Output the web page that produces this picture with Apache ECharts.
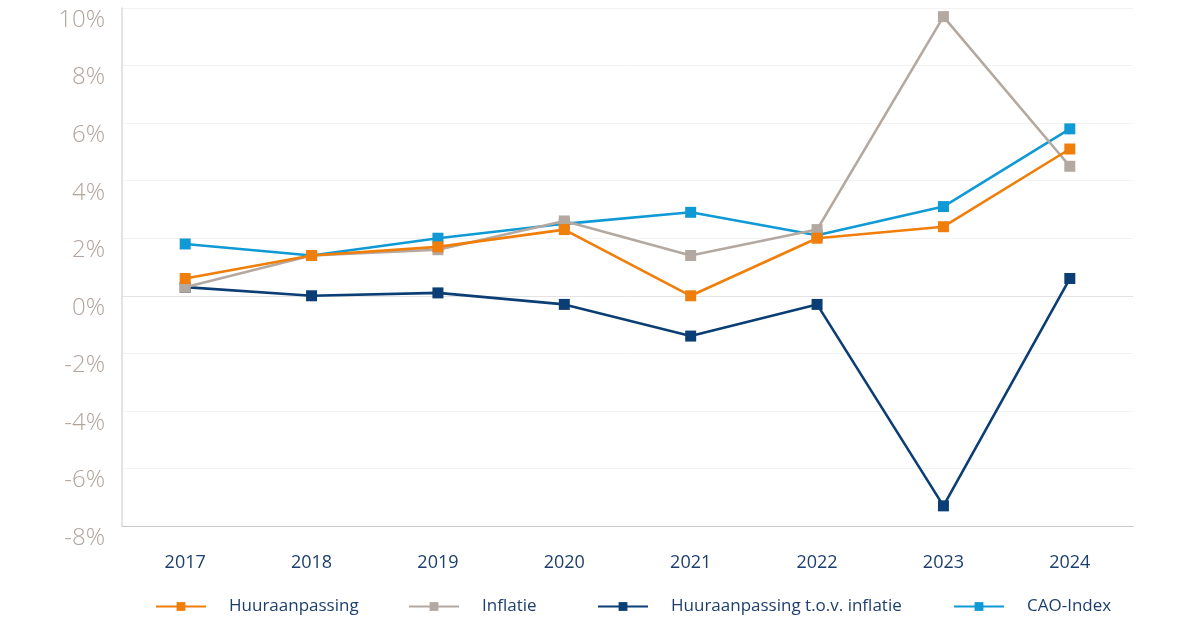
<!DOCTYPE html>
<html>
<head>
<meta charset="utf-8">
<script src="https://cdn.jsdelivr.net/npm/echarts@6/dist/echarts.min.js"></script>
<style>
  html, body { margin: 0; padding: 0; background: #fff; }
  #chart { width: 1200px; height: 627px; }
</style>
</head>
<body>
<div id="chart"></div>
<script>
var years = ['2017', '2018', '2019', '2020', '2021', '2022', '2023', '2024'];
var huuraanpassing = [0.6, 1.4, 1.7, 2.3, 0.0, 2.0, 2.4, 5.1];
var inflatie = [0.3, 1.4, 1.6, 2.6, 1.4, 2.3, 9.7, 4.5];
var tovInflatie = [0.3, 0.0, 0.1, -0.3, -1.4, -0.3, -7.3, 0.6];
var caoIndex = [1.8, 1.4, 2.0, 2.5, 2.9, 2.1, 3.1, 5.8];

var fontFam = '"Open Sans", "Noto Sans", sans-serif';
var navyText = '#1d3f6e';

// gridlines from -8% up to 10%; the 0% line is a bit darker
var gridColors = ['#f3f3f3', '#f3f3f3', '#f3f3f3', '#f3f3f3', '#e3e3e3',
    '#f3f3f3', '#f3f3f3', '#f3f3f3', '#f3f3f3', '#f3f3f3'];

function lineSerie(name, data, color, z) {
    return {
        name: name,
        type: 'line',
        data: data,
        z: z,
        symbol: 'rect',
        symbolSize: 11,
        showSymbol: true,
        lineStyle: { width: 2.6, color: color },
        itemStyle: { color: color },
        emphasis: { disabled: true }
    };
}

function legendAt(name, left) {
    return {
        data: [name],
        left: left,
        top: 598,
        padding: 0,
        itemWidth: 50,
        itemHeight: 11,
        textStyle: { color: navyText, fontSize: 17, fontFamily: fontFam, padding: [0, 0, 0, 18] }
    };
}

var option = {
    animation: false,
    backgroundColor: '#fff',
    grid: { left: 122, right: 67, top: 8, bottom: 101 },
    legend: [
        legendAt('Huuraanpassing', 155),
        legendAt('Inflatie', 408),
        legendAt('Huuraanpassing t.o.v. inflatie', 597),
        legendAt('CAO-Index', 953)
    ],
    xAxis: {
        type: 'category',
        data: years,
        boundaryGap: true,
        axisLine: { onZero: false, lineStyle: { color: '#c8c8c8', width: 1.2 } },
        axisTick: { show: false },
        axisLabel: { color: navyText, fontSize: 18, fontFamily: fontFam, margin: 28 }
    },
    yAxis: {
        type: 'value',
        min: -8,
        max: 10,
        interval: 2,
        axisLine: { show: true, lineStyle: { color: '#dadada', width: 1.5 } },
        axisTick: { show: false },
        splitLine: { lineStyle: { color: gridColors, width: 1 } },
        axisLabel: {
            color: '#b1a59d',
            fontSize: 24,
            lineHeight: 24,
            verticalAlign: 'top',
            fontFamily: fontFam,
            fontWeight: 300,
            margin: 17,
            formatter: '{value}%'
        }
    },
    series: [
        lineSerie('Huuraanpassing t.o.v. inflatie', tovInflatie, '#0b3e74', 2),
        lineSerie('CAO-Index', caoIndex, '#0f9ad5', 3),
        lineSerie('Inflatie', inflatie, '#b4a9a1', 4),
        lineSerie('Huuraanpassing', huuraanpassing, '#f07e0a', 5)
    ]
};

var myChart = echarts.init(document.getElementById('chart'));
myChart.setOption(option);
</script>
</body>
</html>
